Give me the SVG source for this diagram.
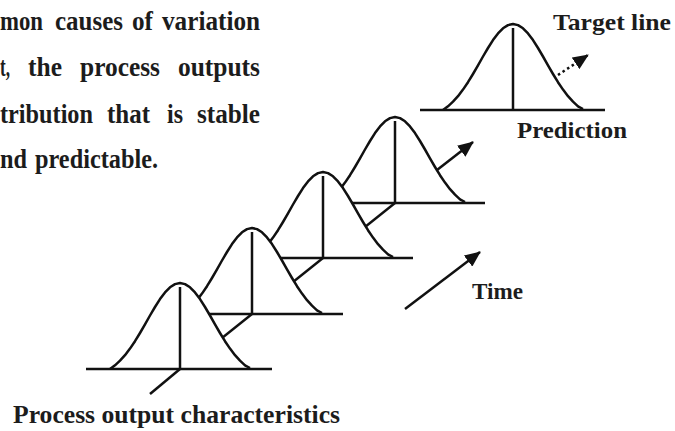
<svg xmlns="http://www.w3.org/2000/svg" xmlns:xlink="http://www.w3.org/1999/xlink" width="675" height="431" viewBox="0 0 675 431">
<style>
.ln{fill:none;stroke:#111;stroke-width:2.5;stroke-linecap:butt;stroke-linejoin:round}
.bg{fill:#fff;stroke:none}
.t{font-family:"Liberation Serif","Times New Roman",serif;font-weight:bold;fill:#1c1c1c}
.p{font-size:27px}
.l{font-size:24px}
</style>
<defs>
<path id="bell" d="M-70,86 L-65,82.3 L-60,77.7 L-55,72.2 L-50,65.6 L-45,58.2 L-40,50 L-35,41.4 L-30,32.5 L-25,24 L-20,16.1 L-15,9.4 L-10,4.3 L-5,1.1 L0,0 L5,1.1 L10,4.3 L15,9.4 L20,16.1 L25,24 L30,32.5 L35,41.4 L40,50 L45,58.2 L50,65.6 L55,72.2 L60,77.7 L65,82.3 L70,85"/>
<marker id="ah" markerUnits="userSpaceOnUse" viewBox="0 0 16 14" markerWidth="16" markerHeight="14" refX="15" refY="7" orient="auto">
<path d="M0,0 L16,7 L0,14 z" fill="#111"/>
</marker>
</defs>
<rect width="675" height="431" fill="#fff"/>

<g id="paragraph" class="t p">
<text x="0" y="30" textLength="43" lengthAdjust="spacingAndGlyphs">mon</text>
<text x="55" y="30" textLength="68" lengthAdjust="spacingAndGlyphs">causes</text>
<text x="132" y="30" textLength="21" lengthAdjust="spacingAndGlyphs">of</text>
<text x="162" y="30" textLength="98" lengthAdjust="spacingAndGlyphs">variation</text>
<text x="0" y="76" textLength="10" lengthAdjust="spacingAndGlyphs">t,</text>
<text x="28" y="76" textLength="34" lengthAdjust="spacingAndGlyphs">the</text>
<text x="80" y="76" textLength="80" lengthAdjust="spacingAndGlyphs">process</text>
<text x="178" y="76" textLength="82" lengthAdjust="spacingAndGlyphs">outputs</text>
<text x="0" y="123" textLength="93" lengthAdjust="spacingAndGlyphs">tribution</text>
<text x="107" y="123" textLength="43" lengthAdjust="spacingAndGlyphs">that</text>
<text x="167" y="123" textLength="16" lengthAdjust="spacingAndGlyphs">is</text>
<text x="197" y="123" textLength="63" lengthAdjust="spacingAndGlyphs">stable</text>
<text x="0" y="168" textLength="27" lengthAdjust="spacingAndGlyphs">nd</text>
<text x="35" y="168" textLength="123" lengthAdjust="spacingAndGlyphs">predictable.</text>
</g>

<g id="curve4" transform="translate(395,117)">
<use xlink:href="#bell" class="bg"/>
<line class="ln" x1="-94" y1="86" x2="90" y2="86"/>
<line class="ln" x1="0" y1="4" x2="0" y2="86"/>
<line class="ln" x1="0" y1="86" x2="-30" y2="110"/>
<use xlink:href="#bell" class="ln"/>
</g>
<g id="curve3" transform="translate(323,172)">
<use xlink:href="#bell" class="bg"/>
<line class="ln" x1="-94" y1="86" x2="90" y2="86"/>
<line class="ln" x1="0" y1="4" x2="0" y2="86"/>
<line class="ln" x1="0" y1="86" x2="-30" y2="110"/>
<use xlink:href="#bell" class="ln"/>
</g>
<g id="curve2" transform="translate(252,228)">
<use xlink:href="#bell" class="bg"/>
<line class="ln" x1="-94" y1="86" x2="91" y2="86"/>
<line class="ln" x1="0" y1="4" x2="0" y2="86"/>
<line class="ln" x1="0" y1="86" x2="-30" y2="110"/>
<use xlink:href="#bell" class="ln"/>
</g>
<g id="curve1" transform="translate(180,283)">
<use xlink:href="#bell" class="bg"/>
<line class="ln" x1="-94" y1="86" x2="92" y2="86"/>
<line class="ln" x1="0" y1="4" x2="0" y2="86"/>
<line class="ln" x1="0" y1="86" x2="-30" y2="111"/>
<use xlink:href="#bell" class="ln"/>
</g>
<g id="prediction-curve" transform="translate(513,24)">
<use xlink:href="#bell" class="bg"/>
<line class="ln" x1="-93" y1="86" x2="92" y2="86"/>
<line class="ln" x1="0" y1="4" x2="0" y2="86"/>
<use xlink:href="#bell" class="ln"/>
</g>

<g id="connectors" class="ln">
<line x1="437" y1="170" x2="473" y2="142" marker-end="url(#ah)"/>
<line x1="558" y1="75" x2="588" y2="55" stroke-dasharray="2.5,3" marker-end="url(#ah)"/>
<line x1="405" y1="309" x2="480" y2="252" marker-end="url(#ah)"/>
</g>

<g id="labels" class="t l">
<text x="553" y="30" textLength="118" lengthAdjust="spacingAndGlyphs">Target line</text>
<text x="517" y="138" textLength="110" lengthAdjust="spacingAndGlyphs">Prediction</text>
<text x="472" y="299" textLength="51" lengthAdjust="spacingAndGlyphs">Time</text>
<text x="13" y="423" font-size="25" textLength="327" lengthAdjust="spacingAndGlyphs">Process output characteristics</text>
</g>
</svg>
